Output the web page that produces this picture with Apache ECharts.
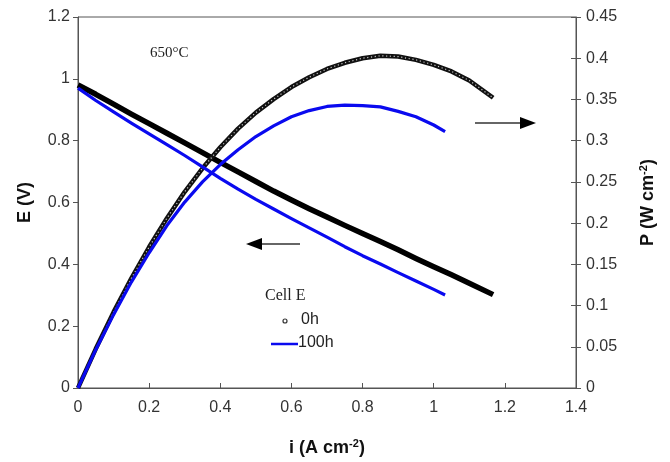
<!DOCTYPE html>
<html>
<head>
<meta charset="utf-8">
<script src="https://cdn.jsdelivr.net/npm/echarts@6/dist/echarts.min.js"></script>
<style>html,body{margin:0;padding:0;background:#fff}#c{width:670px;height:462px}</style>
</head>
<body>
<div id="c"></div>
<script>
// 0h cell
const i0 = [0, 0.05, 0.1, 0.15, 0.2, 0.25, 0.3, 0.35, 0.4, 0.45, 0.5, 0.55, 0.6, 0.65, 0.7, 0.75, 0.8, 0.85, 0.9, 0.95, 1.0, 1.05, 1.1, 1.167];
const E0 = [0.98, 0.95, 0.918, 0.886, 0.855, 0.824, 0.793, 0.7615, 0.73, 0.699, 0.668, 0.637, 0.608, 0.580, 0.553, 0.526, 0.500, 0.474, 0.447, 0.419, 0.392, 0.366, 0.339, 0.302];
const P0 = [0, 0.0475, 0.092, 0.133, 0.171, 0.206, 0.238, 0.2665, 0.292, 0.3146, 0.334, 0.3504, 0.365, 0.377, 0.387, 0.3945, 0.400, 0.403, 0.402, 0.398, 0.392, 0.384, 0.373, 0.352];
// 100h cell
const i1 = [0, 0.05, 0.1, 0.15, 0.2, 0.25, 0.3, 0.35, 0.4, 0.45, 0.5, 0.55, 0.6, 0.65, 0.7, 0.75, 0.8, 0.85, 0.9, 0.95, 1.0, 1.032];
const E1 = [0.97, 0.93, 0.893, 0.857, 0.822, 0.787, 0.752, 0.715, 0.678, 0.643, 0.61, 0.579, 0.548, 0.518, 0.488, 0.457, 0.428, 0.401, 0.373, 0.346, 0.319, 0.301];
const P1 = [0, 0.0465, 0.089, 0.1285, 0.164, 0.197, 0.2255, 0.250, 0.271, 0.289, 0.305, 0.318, 0.329, 0.3365, 0.3415, 0.343, 0.3425, 0.341, 0.3355, 0.329, 0.319, 0.311];

const xTicks = {min: 0, max: 1.4, interval: 0.2};
const eTicks = {min: 0, max: 1.2, interval: 0.2};
const pTicks = {min: 0, max: 0.45, interval: 0.05};

const pair = (xs, ys) => xs.map((x, k) => [x, ys[k]]);

const axisCol = '#555';
const lblCol = '#333';
const sans = 'Liberation Sans, Arial, sans-serif';
const serif = 'Liberation Serif, Times New Roman, serif';
const curve = {smooth: false, showSymbol: false};

const chart = echarts.init(document.getElementById('c'), null, {renderer: 'canvas'});
chart.setOption({
  animation: false,
  backgroundColor: '#fff',
  grid: {left: 78, right: 94, top: 17, bottom: 73, show: true, borderColor: axisCol, borderWidth: 1},
  xAxis: {
    type: 'value', min: xTicks.min, max: xTicks.max, interval: xTicks.interval,
    name: '{a|i (A cm}{s|-2}{a|)}', nameLocation: 'middle', nameGap: 50,
    nameTextStyle: {rich: {
      a: {fontFamily: sans, fontWeight: 'bold', fontSize: 18, color: '#111'},
      s: {fontFamily: sans, fontWeight: 'bold', fontSize: 11, color: '#111', padding: [0, 0, 9, 0]}
    }},
    axisLine: {lineStyle: {color: axisCol}},
    axisTick: {inside: true, length: 5, lineStyle: {color: axisCol}},
    axisLabel: {fontFamily: sans, fontSize: 16, color: lblCol, margin: 12},
    splitLine: {show: false}
  },
  yAxis: [{
    type: 'value', position: 'left', min: eTicks.min, max: eTicks.max, interval: eTicks.interval,
    name: 'E (V)', nameLocation: 'middle', nameGap: 44, nameRotate: 90,
    nameTextStyle: {fontFamily: sans, fontWeight: 'bold', fontSize: 18, color: '#111'},
    axisLine: {show: true, lineStyle: {color: axisCol}},
    axisTick: {show: true, length: 5, lineStyle: {color: axisCol}},
    axisLabel: {fontFamily: sans, fontSize: 16, color: lblCol, margin: 8},
    splitLine: {show: false}
  }, {
    type: 'value', position: 'right', min: pTicks.min, max: pTicks.max, interval: pTicks.interval,
    name: '{a|P (W cm}{s|-2}{a|)}', nameLocation: 'middle', nameGap: 62, nameRotate: 90,
    nameTextStyle: {rich: {
      a: {fontFamily: sans, fontWeight: 'bold', fontSize: 18, color: '#111'},
      s: {fontFamily: sans, fontWeight: 'bold', fontSize: 11, color: '#111', padding: [0, 0, 9, 0]}
    }},
    axisLine: {show: true, lineStyle: {color: axisCol}},
    axisTick: {show: true, length: 5, lineStyle: {color: axisCol}},
    axisLabel: {fontFamily: sans, fontSize: 16, color: lblCol, margin: 10},
    splitLine: {show: false}
  }, {
    type: 'value', position: 'right', min: pTicks.min, max: pTicks.max, interval: pTicks.interval,
    axisLine: {show: false},
    axisTick: {show: true, inside: true, length: 5, lineStyle: {color: axisCol}},
    axisLabel: {show: false},
    splitLine: {show: false}
  }],
  series: [
    Object.assign({type: 'line', name: '0h E', yAxisIndex: 0, data: pair(i0, E0),
     lineStyle: {color: '#000', width: 5.5, join: 'round'}}, curve),
    Object.assign({type: 'line', name: '0h P', yAxisIndex: 1, data: pair(i0, P0),
     lineStyle: {color: '#111', width: 4.5, join: 'round'}}, curve),
    Object.assign({type: 'line', name: '0h P holes', yAxisIndex: 1, data: pair(i0, P0),
     lineStyle: {color: '#c8c8c8', width: 1.2, type: [1.2, 2.6]}}, curve),
    Object.assign({type: 'line', name: '100h E', yAxisIndex: 0, data: pair(i1, E1),
     lineStyle: {color: '#0a0aef', width: 3.2, join: 'round'}}, curve),
    Object.assign({type: 'line', name: '100h P', yAxisIndex: 1, data: pair(i1, P1),
     lineStyle: {color: '#0a0aef', width: 3.2, join: 'round'}}, curve)
  ],
  graphic: [
    {type: 'text', left: 150, top: 46, style: {text: '650°C', font: '15px ' + serif, fill: '#222'}},
    // left arrow
    {type: 'line', shape: {x1: 258, y1: 244, x2: 300, y2: 244}, style: {stroke: '#333', lineWidth: 1.3}},
    {type: 'polygon', shape: {points: [[246, 244], [262, 238], [262, 250]]}, style: {fill: '#000'}},
    // right arrow
    {type: 'line', shape: {x1: 475, y1: 123, x2: 524, y2: 123}, style: {stroke: '#333', lineWidth: 1.3}},
    {type: 'polygon', shape: {points: [[536, 123], [520, 117], [520, 129]]}, style: {fill: '#000'}},
    // legend
    {type: 'text', left: 265, top: 288, style: {text: 'Cell E', font: '16px ' + serif, fill: '#222'}},
    {type: 'circle', shape: {cx: 285, cy: 321, r: 2}, style: {fill: '#fff', stroke: '#333', lineWidth: 1.2}},
    {type: 'text', left: 301, top: 312, style: {text: '0h', font: '16px ' + sans, fill: '#222'}},
    {type: 'line', shape: {x1: 271, y1: 344, x2: 298, y2: 344}, style: {stroke: '#0a0aef', lineWidth: 2.5}},
    {type: 'text', left: 298, top: 335, style: {text: '100h', font: '16px ' + sans, fill: '#222'}}
  ]
});
</script>
</body>
</html>
